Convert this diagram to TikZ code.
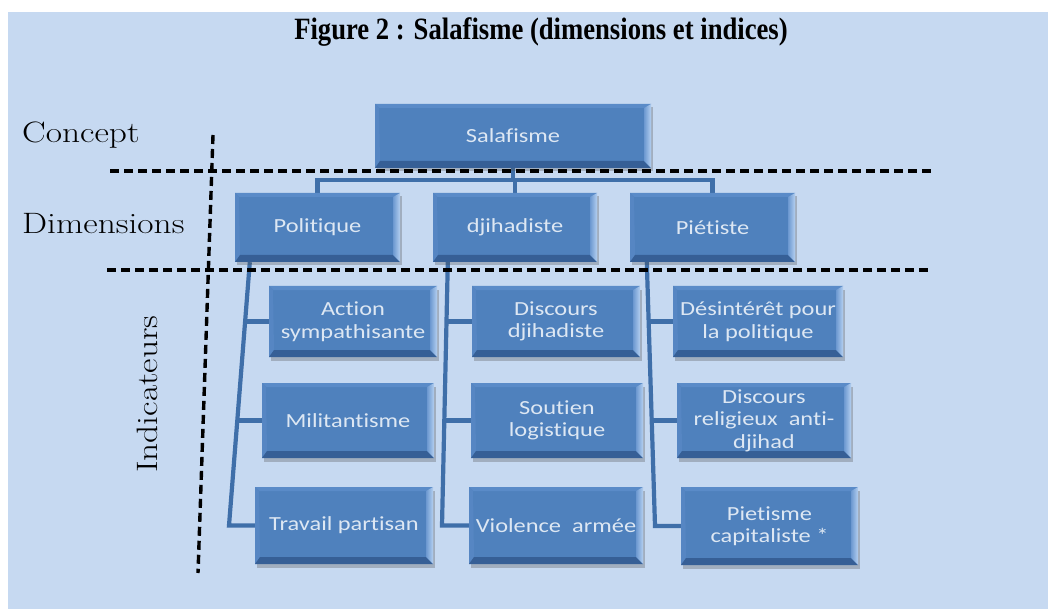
\documentclass[tikz,border=0pt]{standalone}
\usepackage{fontspec}
\usetikzlibrary{shadows,calc}
\newfontfamily\boxfont[FakeStretch=1.22, RawFeature={-liga;-clig;-calt;-dlig;-hlig}]{Carlito}
\newfontfamily\labfont[FakeStretch=1.2]{Latin Modern Roman}
\newfontfamily\titlefont[FakeStretch=0.86]{Liberation Serif}
\definecolor{bgblue}{HTML}{C6D9F1}
\definecolor{boxblue}{HTML}{4F81BD}
\definecolor{boxtext}{HTML}{DDE7F3}
\definecolor{lineblue}{HTML}{3F6FA9}
\definecolor{bevbot}{HTML}{365F96}
\definecolor{bevtop}{HTML}{5A8BC8}
\definecolor{bevleft}{HTML}{5686C3}
\definecolor{bevR1}{HTML}{6C98D0}
\definecolor{bevR2}{HTML}{B3CFF0}
\pgfdeclarelayer{back}
\pgfdeclarelayer{lines}
\pgfsetlayers{back,lines,main}
\tikzset{
  bevbox/.style={rectangle, fill=boxblue, inner sep=0pt, text=boxtext,
    font=\boxfont\fontsize{20}{22.5}\selectfont, align=center,
    drop shadow={shadow xshift=1.5pt, shadow yshift=-3.5pt, opacity=0.3, fill=black!70},
    path picture={
      \fill[bevtop] (path picture bounding box.north west) -- (path picture bounding box.north east)
        -- ([shift={(-7pt,-4pt)}]path picture bounding box.north east)
        -- ([shift={(4pt,-4pt)}]path picture bounding box.north west) -- cycle;
      \fill[bevleft] (path picture bounding box.north west) -- ([shift={(4pt,-4pt)}]path picture bounding box.north west)
        -- ([shift={(5pt,7pt)}]path picture bounding box.south west) -- (path picture bounding box.south west) -- cycle;
      \fill[bevbot] (path picture bounding box.south west) -- (path picture bounding box.south east)
        -- ([shift={(-7pt,7pt)}]path picture bounding box.south east)
        -- ([shift={(5pt,7pt)}]path picture bounding box.south west) -- cycle;
      \shade[left color=bevR1, right color=bevR2] (path picture bounding box.south east) -- (path picture bounding box.north east)
        -- ([shift={(-7pt,-4pt)}]path picture bounding box.north east)
        -- ([shift={(-7pt,7pt)}]path picture bounding box.south east) -- cycle;
    }},
  conn/.style={draw=lineblue, line width=4.2pt},
  sep/.style={draw=black, line width=3.4pt, dash pattern=on 9pt off 5pt},
  lab/.style={font=\labfont\fontsize{29.5}{32}\selectfont, text=black, inner sep=0pt}
}
\begin{document}
\begin{tikzpicture}[x=1pt,y=-1pt]
\useasboundingbox (0,0) rectangle (1048,609);
\begin{pgfonlayer}{back}
\fill[white] (0,0) rectangle (1048,609);
\fill[bgblue] (8,12) rectangle (1048,609);
\end{pgfonlayer}

\node[font=\titlefont\bfseries\fontsize{31}{33}\selectfont, anchor=base, inner sep=0pt] (title) at (541,40)
  {Figure 2 : Salafisme (dimensions et indices)};

\node[lab, anchor=base west] (lconcept) at (22,143) {Concept};
\node[lab, anchor=base west] (ldim) at (22,234) {Dimensions};
\node[lab, anchor=base west, rotate=90] (lind) at (157,473) {Indicateurs};

% boxes
\node[bevbox, minimum width=276pt, minimum height=64pt] (sal) at (513,136) {Salafisme};
\node[bevbox, minimum width=165pt, minimum height=69pt] (pol) at (317.5,227.5) {Politique};
\node[bevbox, minimum width=164pt, minimum height=69pt] (dji) at (515,227.5) {djihadiste};
\node[bevbox, minimum width=165pt, minimum height=69pt] (pie) at (712.5,227.5) {Piétiste};

\node[bevbox, minimum width=168pt, minimum height=71pt] (act) at (353,321.5) {Action\\sympathisante};
\node[bevbox, minimum width=168pt, minimum height=71pt] (disc) at (556,321.5) {Discours\\djihadiste};
\node[bevbox, minimum width=170pt, minimum height=71pt] (des) at (758,321.5) {Désintérêt pour\\la politique};

\node[bevbox, minimum width=172pt, minimum height=75pt] (mil) at (348,420.5) {Militantisme};
\node[bevbox, minimum width=172pt, minimum height=75pt] (sou) at (557,420.5) {Soutien\\logistique};
\node[bevbox, minimum width=174pt, minimum height=75pt] (rel) at (764,420.5) {Discours\\religieux~~anti-\\djihad};

\node[bevbox, minimum width=178pt, minimum height=77pt] (trav) at (344,525.5) {Travail partisan};
\node[bevbox, minimum width=174pt, minimum height=77pt] (vio) at (556,525.5) {Violence~~armée};
\node[bevbox, minimum width=177pt, minimum height=78pt] (piet) at (769.5,526) {Pietisme\\capitaliste *};

% connectors
\coordinate (pa) at (245.2,321.5);
\coordinate (pm) at (237.3,420.5);
\coordinate (pb) at (229,525.5);
\coordinate (da) at (446.6,321.5);
\coordinate (dm) at (444.4,420.5);
\coordinate (db) at (442,525.5);
\coordinate (qa) at (648.8,321.5);
\coordinate (qm) at (651.8,420.5);
\coordinate (qb) at (655,526);
\begin{pgfonlayer}{lines}
\draw[conn] (sal.south) -- ++(0,12) -| (pol.north);
\draw[conn] (sal.south) -- ++(0,12) -| (pie.north);
\draw[conn] (sal.south) -- ++(0,12) -| (dji.north);
\draw[conn] ([xshift=15pt]pol.south west) -- (pb) -- (trav.west);
\draw[conn] (pa) -- (act.west);
\draw[conn] (pm) -- (mil.west);
\draw[conn] ([xshift=15pt]dji.south west) -- (db) -- (vio.west);
\draw[conn] (da) -- (disc.west);
\draw[conn] (dm) -- (sou.west);
\draw[conn] ([xshift=17pt]pie.south west) -- (qb) -- (piet.west);
\draw[conn] (qa) -- (des.west);
\draw[conn] (qm) -- (rel.west);
\end{pgfonlayer}

% dashed separators
\draw[sep] (110,171) -- (935,171);
\draw[sep] (107,270) -- (930,270);
\draw[sep] (213,135) -- (198,573);
\end{tikzpicture}
\end{document}
